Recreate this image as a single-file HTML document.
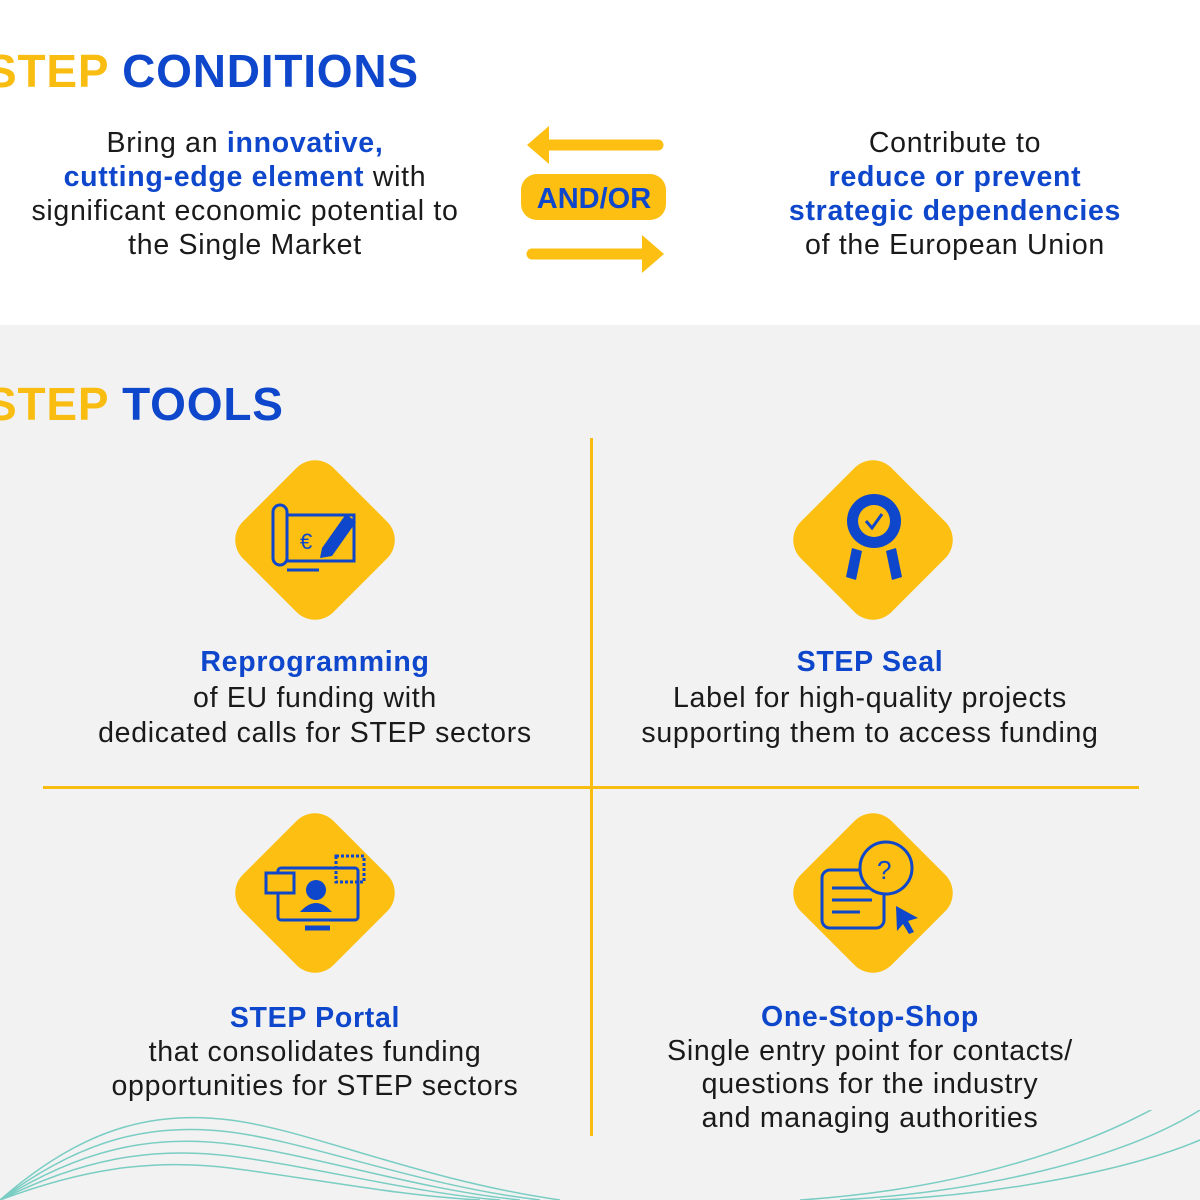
<!DOCTYPE html>
<html><head><meta charset="utf-8"><style>
*{margin:0;padding:0;box-sizing:border-box}
body{width:1200px;height:1200px;overflow:hidden;position:relative;background:#f2f2f2;font-family:"Liberation Sans",sans-serif;color:#1a1a1a}
.top{position:absolute;left:0;top:0;width:1200px;height:325px;background:#fff}
.t{position:absolute;font-weight:bold;font-size:46px;letter-spacing:0.8px;white-space:nowrap}
.y{color:#f9bd12}.b{color:#0e47cb;font-weight:bold}
.c{position:absolute;text-align:center;font-size:28.5px;letter-spacing:0.7px;line-height:34px;white-space:nowrap}
.d{position:absolute;width:128px;height:128px;background:#fcbf12;border-radius:26px;transform:rotate(45deg)}
.ic{position:absolute}
</style></head><body>
<div class="top"></div>
<div class="t" style="left:-14px;top:44px"><span class="y">STEP</span> <span style="color:#0e47cb">CONDITIONS</span></div>
<div class="c" style="left:0;width:490px;top:126px">Bring an <span class="b">innovative,</span><br><span class="b">cutting-edge element</span> with<br>significant economic potential to<br>the Single Market</div>
<div class="c" style="left:740px;width:430px;top:126px">Contribute to<br><span class="b">reduce or prevent</span><br><span class="b">strategic dependencies</span><br>of the European Union</div>
<svg style="position:absolute;left:0;top:0" width="1200" height="330">
<g stroke="#fcbf12" stroke-width="11" stroke-linecap="round" fill="#fcbf12">
<line x1="545" y1="145" x2="658" y2="145"/><line x1="532" y1="254" x2="645" y2="254"/></g>
<polygon points="527,145 549,126 549,164" fill="#fcbf12"/>
<polygon points="664,254 642,235 642,273" fill="#fcbf12"/>
<rect x="521" y="174" width="145" height="46" rx="16" fill="#fcbf12"/>
<text x="594" y="208" text-anchor="middle" font-family="Liberation Sans" font-weight="bold" font-size="29" fill="#0e47cb">AND/OR</text>
</svg>
<div class="t" style="left:-14px;top:377px"><span class="y">STEP</span> <span style="color:#0e47cb">TOOLS</span></div>
<div style="position:absolute;left:590px;top:438px;width:3px;height:698px;background:#f9bd12"></div>
<div style="position:absolute;left:43px;top:786px;width:1096px;height:3px;background:#f9bd12"></div>
<div class="d" style="left:251px;top:476px"></div>
<div class="d" style="left:809px;top:476px"></div>
<div class="d" style="left:251px;top:829px"></div>
<div class="d" style="left:809px;top:829px"></div>
<svg class="ic" style="left:0;top:0" width="1200" height="1200" fill="none" stroke="#0e47cb" stroke-width="3">
<rect x="273" y="505" width="14" height="60" rx="7"/><rect x="287" y="515" width="67" height="46"/><line x1="287" y1="570" x2="319" y2="570"/>
<text x="300" y="549" font-size="22" fill="#0e47cb" stroke="none" font-family="Liberation Sans">€</text>
<polygon points="322,548 346,514 356,522 332,556 320,558" fill="#0e47cb" stroke="none"/>
<circle cx="874" cy="521" r="27" fill="#0e47cb" stroke="none"/><circle cx="874" cy="521" r="16" fill="#fcbf12" stroke="none"/>
<polyline points="866,521 872,528 882,514" stroke-width="3"/>
<polygon points="852,548 862,551 856,580 846,577" fill="#0e47cb" stroke="none"/><polygon points="886,551 896,548 902,577 892,580" fill="#0e47cb" stroke="none"/>
<rect x="278" y="868" width="80" height="52" rx="3"/><line x1="305" y1="928" x2="330" y2="928" stroke-width="5"/>
<circle cx="316" cy="890" r="10" fill="#0e47cb" stroke="none"/><path d="M300 912 q16 -18 32 0" fill="#0e47cb" stroke="none"/>
<rect x="266" y="873" width="28" height="20" fill="#fcbf12"/><rect x="336" y="856" width="28" height="26" stroke-dasharray="3 2"/>
<rect x="822" y="870" width="62" height="58" rx="8"/><line x1="832" y1="888" x2="872" y2="888"/><line x1="832" y1="900" x2="872" y2="900"/><line x1="832" y1="912" x2="860" y2="912"/>
<circle cx="886" cy="868" r="26" fill="#fcbf12"/><text x="877" y="879" font-size="26" fill="#0e47cb" stroke="none" font-family="Liberation Sans">?</text>
<polygon points="896,906 918,918 908,921 914,932 909,934 903,924 897,931" fill="#0e47cb" stroke="none"/>
</svg>
<div class="c" style="left:40px;width:550px;top:645px;line-height:35.5px"><span class="b">Reprogramming</span><br>of EU funding with<br>dedicated calls for STEP sectors</div>
<div class="c" style="left:595px;width:550px;top:645px;line-height:35.5px"><span class="b">STEP Seal</span><br>Label for high-quality projects<br>supporting them to access funding</div>
<div class="c" style="left:40px;width:550px;top:1001px;line-height:34px"><span class="b">STEP Portal</span><br>that consolidates funding<br>opportunities for STEP sectors</div>
<div class="c" style="left:595px;width:550px;top:1001px;line-height:33.5px"><span class="b">One-Stop-Shop</span><br>Single entry point for contacts/<br>questions for the industry<br>and managing authorities</div>
<svg class="ic" style="left:0;top:1110px" width="1200" height="90" fill="none" stroke="#5cc4b8" stroke-width="1.5" opacity="0.8">
<path d="M0 90 C80 20 150 0 230 10 S420 70 560 90"/><path d="M0 90 C80 30 150 12 230 22 S420 76 540 90"/>
<path d="M0 90 C80 40 150 24 230 34 S420 80 520 90"/><path d="M0 90 C80 50 150 36 230 46 S420 84 500 90"/>
<path d="M0 90 C80 60 150 48 230 58 S400 86 480 90"/>
<path d="M800 90 C950 80 1100 40 1200 -30"/><path d="M840 90 C980 82 1120 50 1200 0"/><path d="M880 90 C1000 85 1130 60 1200 30"/>
</svg>
</body></html>
